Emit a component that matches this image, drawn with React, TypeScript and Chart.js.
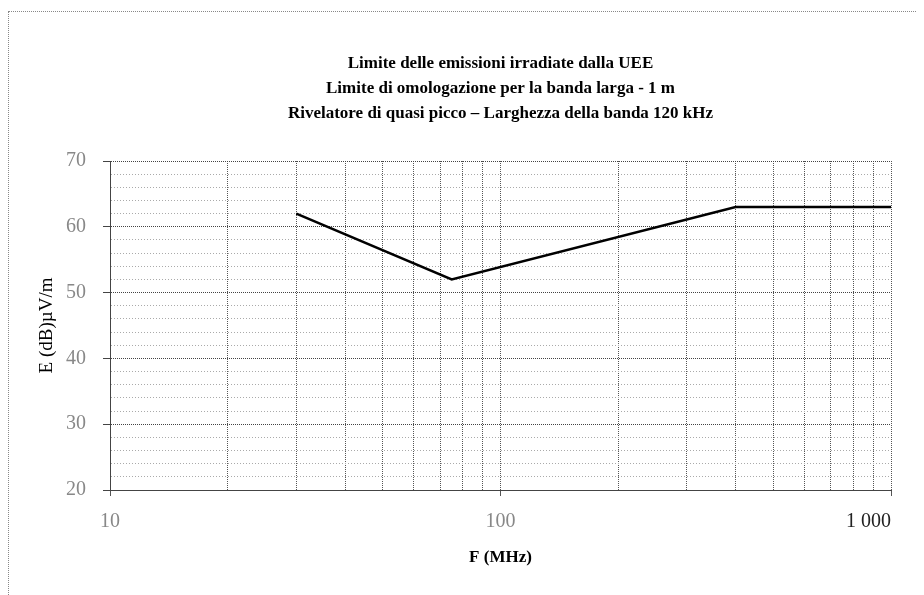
import React, { useEffect, useRef } from "react";
import { Chart, registerables } from "chart.js";

Chart.register(...registerables);

const titleLines = [
  "Limite delle emissioni irradiate dalla UEE",
  "Limite di omologazione per la banda larga - 1 m",
  "Rivelatore di quasi picco – Larghezza della banda 120 kHz",
];
const freqMHz = [30, 75, 400, 1000];
const limitDb = [62, 52, 63, 63];
const xGridValues = [10, 20, 30, 40, 50, 60, 70, 80, 90, 100, 200, 300, 400, 500, 600, 700, 800, 900, 1000];
const xLabelValues = [10, 100, 1000];
const xLabelTexts = ["10", "100", "1 000         "];
const yMin = 20;
const yMax = 70;
const yMinorStep = 2;
const yLabelStep = 10;
const xTitle = "F (MHz)";
const yTitle = "E (dB)µV/m";

const SERIF = "'Liberation Serif', 'DejaVu Serif', serif";

export default function App() {
  const ref = useRef<HTMLCanvasElement | null>(null);

  useEffect(() => {
    if (!ref.current) return;
    const chart = new Chart(ref.current, {
      type: "line",
      data: {
        datasets: [
          {
            data: freqMHz.map((f, i) => ({ x: f, y: limitDb[i] })),
            borderColor: "#000",
            borderWidth: 2.5,
            pointRadius: 0,
            tension: 0,
            fill: false,
          },
        ],
      },
      options: {
        animation: false,
        responsive: false,
        layout: { padding: { left: 0, right: 33, top: 0, bottom: 0 } },
        plugins: {
          legend: { display: false },
          tooltip: { enabled: false },
          title: {
            display: true,
            fullSize: false,
            text: titleLines,
            color: "#000",
            font: { family: SERIF, size: 17, weight: "bold", lineHeight: 25 / 17 },
            padding: { top: 43, bottom: 35 },
          },
        },
        scales: {
          x: {
            type: "logarithmic",
            min: 10,
            max: 1000,
            afterBuildTicks: (s: any) => {
              s.ticks = xGridValues.map((v) => ({ value: v, major: xLabelValues.includes(v) }));
            },
            afterFit: (s: any) => {
              s.height = 105;
              s.paddingLeft = 0;
              s.paddingRight = 0;
            },
            ticks: {
              autoSkip: false,
              maxRotation: 0,
              minRotation: 0,
              padding: 14,
              color: (ctx: any) => (ctx.tick && ctx.tick.value === 1000 ? "#222" : "#888"),
              font: { family: SERIF, size: 20 },
              callback: (v: any) => {
                const i = xLabelValues.indexOf(Number(v));
                return i >= 0 ? xLabelTexts[i] : "";
              },
            },
            grid: {
              color: "#555",
              lineWidth: 1,
              tickLength: 6,
              tickColor: (ctx: any) =>
                ctx.tick && xLabelValues.includes(ctx.tick.value) ? "#555" : "rgba(0,0,0,0)",
            },
            border: { color: "#444", dash: [1, 1] },
            title: {
              display: true,
              text: xTitle,
              color: "#000",
              font: { family: SERIF, size: 17, weight: "bold" },
              padding: { top: 0, bottom: 27 },
            },
          },
          y: {
            min: yMin,
            max: yMax,
            afterFit: (s: any) => {
              s.width = 102;
            },
            ticks: {
              stepSize: yMinorStep,
              autoSkip: false,
              padding: 17,
              color: "#888",
              font: { family: SERIF, size: 20 },
              callback: (v: any) => (Number(v) % yLabelStep === 0 ? String(v) : ""),
            },
            grid: {
              color: (ctx: any) =>
                ctx.tick && ctx.tick.value % yLabelStep === 0 ? "#444" : "#aaa",
              lineWidth: 1,
              tickLength: 7,
              tickColor: (ctx: any) =>
                ctx.tick && ctx.tick.value % yLabelStep === 0 ? "#444" : "rgba(0,0,0,0)",
            },
            border: {
              color: "#444",
              dash: (ctx: any) =>
                ctx.tick && ctx.tick.value % yLabelStep === 0 ? [1, 1] : [1, 2],
            },
            title: {
              display: true,
              text: yTitle,
              color: "#000",
              font: { family: SERIF, size: 19 },
              padding: { top: 27.6, bottom: 0 },
            },
          },
        },
      },
    } as any);
    return () => chart.destroy();
  }, []);

  return (
    <div style={{ position: "relative", width: 916, height: 587 }}>
      <div
        style={{
          position: "absolute",
          left: 0,
          top: 3,
          right: 0,
          bottom: 0,
          borderTop: "1px dotted #888",
          borderLeft: "1px dotted #888",
          pointerEvents: "none",
        }}
      />
      <canvas ref={ref} width={916} height={587} style={{ position: "absolute", left: 0, top: 0 }} />
    </div>
  );
}
